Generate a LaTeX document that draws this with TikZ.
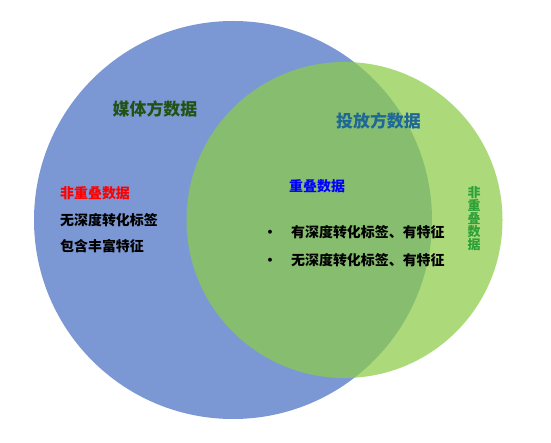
\documentclass[tikz,border=0pt]{standalone}
\usepackage{fontspec}
\setmainfont{Noto Sans CJK SC}
\usetikzlibrary{positioning}
\definecolor{mediablue}{RGB}{124,152,212}
\definecolor{adgreen}{RGB}{140,204,72}
\definecolor{mediatitle}{RGB}{36,82,22}
\definecolor{adtitle}{RGB}{30,104,150}
\definecolor{sidegreen}{RGB}{46,160,56}

\begin{document}
\begin{tikzpicture}[
  x=1bp, y=-1bp,
  set/.style={circle, inner sep=0pt},
  ttl/.style={font=\fontsize{17}{19}\selectfont\bfseries, inner sep=0pt},
  txt/.style={font=\fontsize{14}{16}\selectfont\bfseries, inner sep=0pt, anchor=west}
]
  \useasboundingbox (0,0) rectangle (551,443);

  % the two sets
  \node[set, fill=mediablue, minimum size=398bp] (media) at (233,220) {};
  \node[set, fill=adgreen, fill opacity=0.72, minimum size=316bp] (ad) at (344.5,220) {};

  \node[ttl, text=mediatitle] (mediaT) at (155,109) {媒体方数据};
  \node[ttl, text=adtitle] (adT) at (378.5,121) {投放方数据};

  % media side only
  \node[txt, text=red] (mediaOnly) at (60,193) {非重叠数据};
  \node[txt] (mediaL1) at (60,220) {无深度转化标签};
  \node[txt] (mediaL2) at (60,246) {包含丰富特征};

  % overlap
  \node[txt, text=blue] (both) at (289,186) {重叠数据};
  \node[txt] (bothL1) at (263,232) {\makebox[28bp][l]{•}有深度转化标签、有特征};
  \node[txt] (bothL2) at (263,260) {\makebox[28bp][l]{•}无深度转化标签、有特征};

  % ad side only
  \node[font=\fontsize{13}{13}\selectfont\bfseries, text=sidegreen, inner sep=0pt,
        align=center] (adOnly) at (474,218.5) {非\\重\\叠\\数\\据};
\end{tikzpicture}
\end{document}
